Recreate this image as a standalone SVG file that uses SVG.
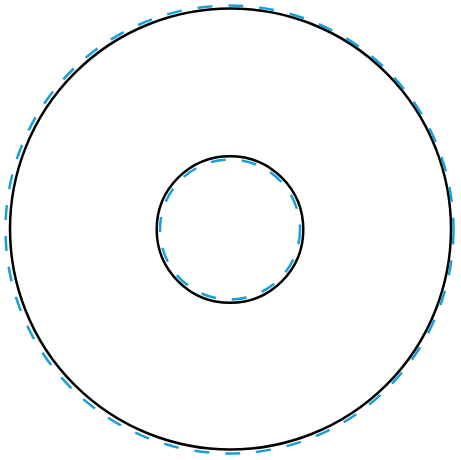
<svg xmlns="http://www.w3.org/2000/svg" width="461" height="460" viewBox="0 0 461 460">
<style>
.solid{fill:none;stroke:#000;stroke-width:2.5}
.dash{fill:none;stroke:#1a9fd8;stroke-width:2.5;stroke-dasharray:15 16}
</style>
<rect width="461" height="460" fill="#fff"/>
<g id="outer">
<circle class="solid" cx="230.5" cy="229" r="220.5"/>
<circle class="dash" cx="229.5" cy="229.5" r="224"/>
</g>
<g id="inner">
<circle class="solid" cx="230" cy="229.5" r="73.3"/>
<circle class="dash" cx="230" cy="229.5" r="70"/>
</g>
</svg>
